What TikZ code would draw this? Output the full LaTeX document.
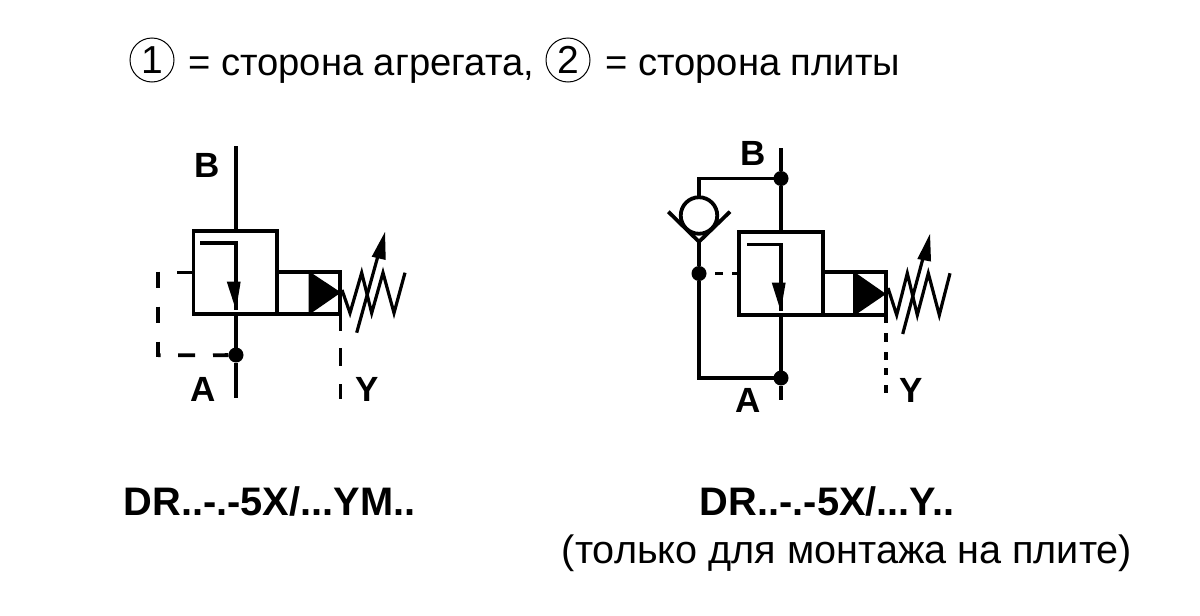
\documentclass[tikz,border=0pt]{standalone}
\usepackage{fontspec}
\setmainfont{Liberation Sans}
\usetikzlibrary{calc}
\tikzset{
  ln/.style={line width=3.8pt,line cap=butt,line join=miter},
  spr/.style={line width=3.2pt,line cap=butt,line join=miter},
  box/.style={draw,line width=3.8pt,rectangle,inner sep=0pt,outer sep=0pt},
  dot/.style={circle,fill=black,inner sep=0pt,minimum size=15pt,outer sep=0pt},
  lbl/.style={font=\fontsize{35}{37}\bfseries\selectfont,anchor=base,inner sep=0pt},
  captxt/.style={font=\fontsize{39.8}{44}\bfseries\selectfont,anchor=base,inner sep=0pt},
  txt/.style={font=\fontsize{38.2}{42}\selectfont,anchor=base west,inner sep=0pt},
  num/.style={circle,draw,line width=1pt,inner sep=0pt,minimum size=44pt,font=\fontsize{39}{40}\selectfont},
  head/.style={fill=black,draw=none}
}
\begin{document}
\begin{tikzpicture}[x=1pt,y=-1pt]
\useasboundingbox (0,0) rectangle (1200,616);
% ---- top line
\node[num] (n1) at (152,60) {\raisebox{-2.5pt}{1}};
\node[txt] (t1) at (188,75) {= сторона агрегата,};
\node[num] (n2) at (568,60) {\raisebox{-2.5pt}{2}};
\node[txt] (t2) at (605,75) {= сторона плиты};
% ---- left symbol
\node[box,minimum width=83.5pt,minimum height=83pt] (L) at (235.2,272.2) {};
\node[box,minimum width=63pt,minimum height=42pt,anchor=south west] (Lc) at (L.south east) {};
\node[dot] (Ld) at (236,355) {};
\coordinate (Lb) at (236,146);
\coordinate (La) at (236,398);
\draw[ln] (Lb) -- (236,231);
\draw[ln] (236,314) -- (Ld) -- (La);
\coordinate (Li0) at (200,243);
\coordinate (Li1) at (236,243);
\coordinate (Li2) at (236,310);
\draw[ln] (Li0) -- (Li1) -- (Li2);
\fill[head] (226.7,281.5) -- (240.7,281.5) -- (Li2) -- cycle;
\fill[head] (308.5,271) -- (308.5,315) -- (341,292.5) -- cycle;
\draw[spr] (342,290) -- (350,313) -- (361.7,272.7) -- (371.7,313) -- (383,272.7) -- (394,313) -- (405,272.7);
\coordinate (La0) at (356.7,332.7);
\coordinate (La1) at (381,245);
\draw[spr] (La0) -- (La1);
\fill[head] (371.7,256.7) -- (385.7,260) -- (385,232) -- cycle;
% Y drain
\coordinate (Ly) at (340.5,399);
\draw[ln] (340.5,314) -- (340.5,331) (340.5,348) -- (340.5,366) (340.5,384) -- (Ly);
% pilot
\draw[ln] (L.west |- 0,272.5) -- (176.7,272.5);
\draw[ln] (158.3,271.5) -- (158.3,288) (158.3,306.5) -- (158.3,323) (158.3,341.5) -- (158.3,357);
\draw[ln] (158,355.3) -- (160.5,355.3) (178,355.3) -- (195,355.3) (213,355.3) -- (Ld);
\node[lbl] (lB) at (207.5,177) {B};
\node[lbl] (lA) at (203.5,401.5) {A};
\node[lbl] (lY) at (367,401.5) {Y};
\node[captxt] (c1) at (269.5,515) {DR..-.-5X/...YM..};
% ---- right symbol
\node[box,minimum width=83.4pt,minimum height=83pt] (R) at (781,273.8) {};
\node[box,minimum width=63pt,minimum height=43pt,anchor=south west] (Rc) at (R.south east) {};
\node[dot] (Rt) at (781,178.5) {};
\node[dot] (Rb) at (781,378) {};
\node[dot] (Rm) at (699,273.5) {};
\coordinate (Rs) at (781,148);
\coordinate (Re) at (781,400);
\draw[ln] (Rs) -- (Rt) -- (781,232);
\draw[ln] (781,315) -- (Rb) -- (Re);
\node[circle,draw,line width=3.8pt,minimum size=36.5pt,inner sep=0pt,outer sep=0pt] (Rv) at (699,215.5) {};
\coordinate (Rv0) at (668.3,211.7);
\coordinate (Rv1) at (699,241.7);
\coordinate (Rv2) at (730,211.7);
\draw[ln] (Rv0) -- (Rv1) -- (Rv2);
\draw[ln] (Rt) -- (699,178.5) -- (Rv.north);
\draw[ln] (Rv1) -- (Rm) -- (699,378) -- (Rb);
\draw[ln] (715,273.5) -- (723,273.5) (732,273.5) -- (739.3,273.5);
\coordinate (Ri0) at (747,244.5);
\coordinate (Ri1) at (780.7,244.5);
\coordinate (Ri2) at (780.7,311);
\draw[ln] (Ri0) -- (Ri1) -- (Ri2);
\fill[head] (771.7,282.5) -- (785.7,282.5) -- (Ri2) -- cycle;
\fill[head] (853,271) -- (853,316.5) -- (886,294) -- cycle;
\draw[spr] (888,288) -- (896.7,315) -- (907.3,273.3) -- (917.3,315) -- (928.3,273.3) -- (939.3,315) -- (950,273.3);
\coordinate (Ra0) at (902.7,334);
\coordinate (Ra1) at (926,247);
\draw[spr] (Ra0) -- (Ra1);
\fill[head] (917.3,259) -- (931,261.5) -- (930,234) -- cycle;
\coordinate (Ry) at (885.7,393);
\draw[ln] (885.7,316) -- (885.7,323) (885.7,333) -- (885.7,342) (885.7,352) -- (885.7,360) (885.7,368) -- (885.7,375) (885.7,385) -- (Ry);
\node[lbl] (rB) at (753.5,165) {B};
\node[lbl] (rA) at (748,412) {A};
\node[lbl] (rY) at (911,402) {Y};
\node[captxt] (c2) at (827,515) {DR..-.-5X/...Y..};
\node[txt,anchor=base,font=\fontsize{39.6}{44}\selectfont] (c3) at (847,563) {(только для монтажа на плите)};
\end{tikzpicture}
\end{document}
